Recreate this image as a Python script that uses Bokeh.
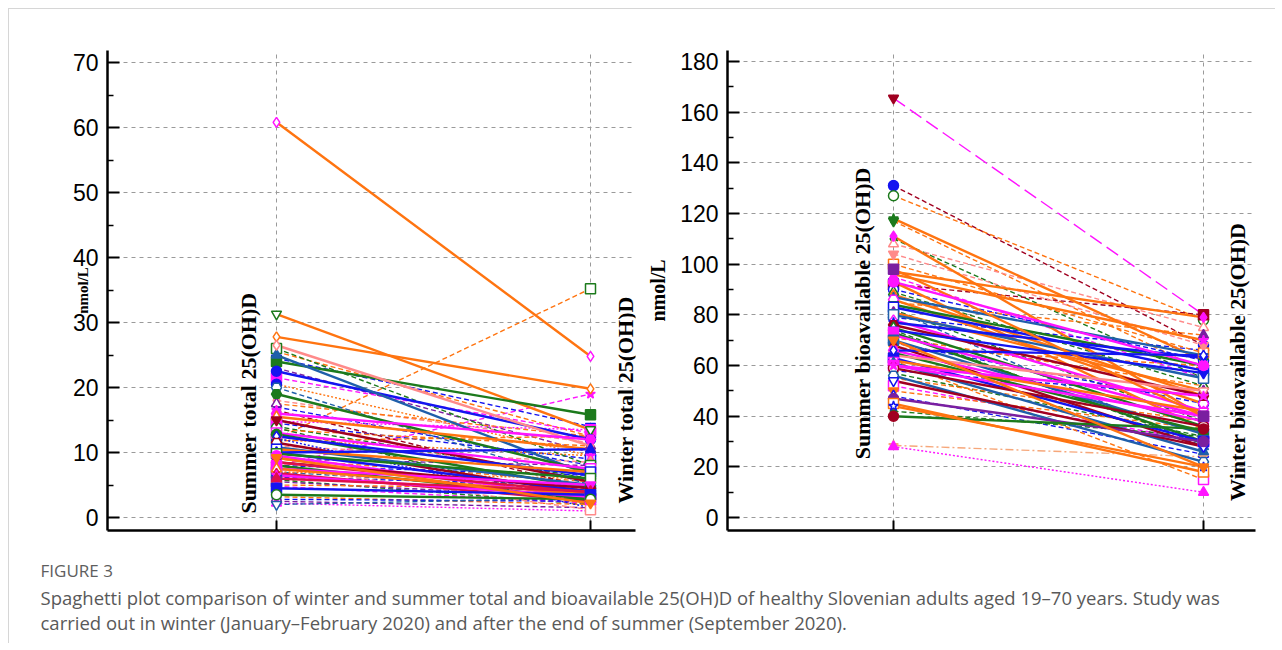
import numpy as np
from bokeh.plotting import figure
from bokeh.models import Range1d, FixedTicker
from bokeh.layouts import column, row
from bokeh.embed import file_html
from bokeh.resources import INLINE
from bokeh.core.properties import value

# ---------------- data ----------------
categories_total = ["Summer total 25(OH)D", "Winter total 25(OH)D"]
categories_bio = ["Summer bioavailable 25(OH)D", "Winter bioavailable 25(OH)D"]
y_label = "nmol/L"

yticks_total = [0, 10, 20, 30, 40, 50, 60, 70]
yminor_total = [5, 15, 25, 35, 45, 55, 65]
yticks_bio = [0, 20, 40, 60, 80, 100, 120, 140, 160, 180]
yminor_bio = [10, 30, 50, 70, 90, 110, 130, 150, 170]

summer_total = [60.8, 31.3, 27.8, 12.1, 24.0, 22.5, 25.0, 19.0, 26.5, 8.0,
                25.5, 23.0, 21.5, 20.5, 18.0, 17.0, 16.0, 15.5, 15.0, 14.5,
                14.0, 13.5, 13.0, 12.8, 12.5, 12.0, 11.5, 11.0, 10.8, 10.5,
                10.0, 10.0, 9.8, 9.5, 9.0, 9.0, 8.5, 8.5, 8.0, 8.0,
                7.5, 7.5, 7.0, 7.0, 6.8, 6.5, 6.2, 6.0, 5.8, 5.5,
                5.0, 4.8, 4.5, 3.5, 3.2, 2.8, 2.5, 2.2, 2.0, 26.0,
                24.5, 17.5, 14.8, 13.8, 11.8, 16.5, 20.0, 12.2, 9.2, 7.8]
winter_total = [24.8, 13.5, 19.8, 35.2, 15.8, 12.0, 6.5, 7.0, 11.0, 19.0,
                12.5, 10.0, 13.0, 9.5, 11.5, 8.0, 12.0, 10.5, 5.5, 9.0,
                6.0, 11.0, 7.5, 4.5, 6.5, 9.5, 3.5, 8.5, 5.0, 7.0,
                4.0, 10.5, 6.0, 3.0, 5.5, 8.0, 4.5, 3.8, 6.5, 2.8,
                5.0, 3.5, 4.2, 6.0, 2.5, 3.2, 5.0, 4.0, 2.0, 3.0,
                4.5, 2.2, 3.5, 2.8, 2.0, 2.5, 1.5, 1.0, 3.0, 8.0,
                14.0, 12.5, 13.5, 2.0, 12.5, 4.5, 5.0, 1.5, 2.2, 1.2]

summer_bio = [165.5, 131.0, 127.0, 118.0, 117.0, 111.0, 110.0, 108.0, 97.0, 96.0,
              95.0, 93.0, 92.0, 90.0, 88.0, 87.0, 86.0, 85.0, 84.0, 83.0,
              82.0, 81.0, 80.0, 79.0, 78.0, 77.0, 76.0, 75.0, 74.0, 73.0,
              72.0, 71.0, 70.0, 69.0, 68.0, 67.0, 66.0, 65.0, 64.0, 63.0,
              62.0, 61.0, 60.0, 59.0, 58.0, 57.0, 56.0, 55.0, 54.0, 52.0,
              50.0, 48.0, 47.0, 45.0, 42.0, 40.0, 44.0, 28.5, 28.0, 100.0,
              104.0, 89.0, 98.0, 93.0, 66.0, 60.0, 74.0, 82.0, 70.0, 62.0]
winter_bio = [80.0, 68.0, 78.0, 62.0, 58.0, 40.0, 55.0, 75.0, 79.0, 70.0,
              55.0, 35.0, 80.0, 62.0, 48.0, 64.0, 45.0, 72.0, 60.0, 58.0,
              38.0, 50.0, 55.0, 66.0, 42.0, 63.0, 48.0, 36.0, 57.0, 30.0,
              40.0, 52.0, 33.0, 45.0, 28.0, 60.0, 38.0, 34.0, 50.0, 30.0,
              42.0, 26.0, 40.0, 36.0, 48.0, 32.0, 22.0, 38.0, 28.0, 30.0,
              35.0, 25.0, 30.0, 18.0, 32.0, 35.0, 20.0, 24.0, 10.0, 65.0,
              68.0, 52.0, 40.0, 60.0, 64.0, 48.0, 29.0, 28.0, 20.0, 15.0]

caption_title = "FIGURE 3"
caption_lines = [
    "Spaghetti plot comparison of winter and summer total and bioavailable 25(OH)D of healthy Slovenian adults aged 19\u201370 years. Study was",
    "carried out in winter (January\u2013February 2020) and after the end of summer (September 2020).",
]

# ---------------- styles ----------------
COLORS = {"O": "#FF7410", "B": "#1414F0", "G": "#1C7A1C", "M": "#FF14FF", "R": "#A00020",
          "S": "#1F5FAA", "P": "#FF8A8A", "U": "#7A1FA0", "C": "#E0104A", "Y": "#F6A77A"}
DASHES = {"s": "solid", "d": "5 3", "o": "2 2", "a": "8 3 2 3", "l": "14 6"}
MARKERS = {"d": "diamond", "v": "inverted_triangle", "t": "triangle", "q": "square",
           "c": "circle", "x": "star", "h": "hex"}

sty_total = dict(
    col="OOOOGBSGPM" "OUMOPBMORB" "GOMGBORPSO" "BBGMOURCBG" "MOSOCMBCGU" "OMBGOBUMSG" "BOMGORSBOP",
    dash="sssdsssssd" "dddoddsssd" "ddsssosdss" "ssssddssds" "ssdossdsdd" "ddssdddodd" "ddoddddosd",
    mk="dvdqqcthdx" "vtqcdxhtvq" "vtqcdxhtvq" "vtqcdxhtvq" "vtqcdxhtvq" "vtqcdxhtvq" "vtqcdxhtvq",
    mcol="MGOGGBSGPM" "MUMBPBMORB" "GUMGBMRPSB" "BBGMOURCBM" "MOSUCMBCGU" "OMBGMBUMSG" "BUMGOMSBOP",
    fill="ooooffffof" "foffoffofo" "ffofofoffo" "ffofoffoff" "fofofoffof" "offoffofoo" "fofoffoffo",
)
sty_bio = dict(
    col="MROOOOGPOO" "MORBOSOOGB" "GOSBMBRGBG" "MOSBROMGPB" "OSMRBGSORM" "OBUOGGOYMO" "PGOMBMGSOO",
    dash="lddsdsddss" "dsddsssdss" "dssdssssss" "sdsdsdssss" "ssssddsdsd" "ddssdssaod" "ddssssddsd",
    mk="vccxvddtdx" "tvqcdxhtvq" "vtqcdxhtvq" "vtqcdxhtvq" "vtqcdxhtvq" "vtcqdcxxtq" "vtqcdxhtvq",
    mcol="RBGGGMGPMM" "MBRBOSMUGB" "GUSBMBRGBM" "MOSBROMGPB" "MSMRBGSUBM" "OBUOGRBYMO" "PGUMBMGSOM",
    fill="ffofffooff" "fofoffoffo" "ffofoffoff" "fofofoffof" "offoffofoo" "fofoffoffo" "foffofoffo",
)


def make_panel(summer, winter, cats, yticks, yminor, xr, yr, width, height,
               borders, sty, cat_pos, ylab_standoff, ylab_size):
    p = figure(width=width, height=height, x_range=Range1d(*xr), y_range=Range1d(*yr),
               output_backend="svg", toolbar_location=None,
               min_border_left=borders[0], min_border_right=borders[1],
               min_border_top=borders[2], min_border_bottom=borders[3])
    p.outline_line_color = None
    p.background_fill_color = "white"
    p.border_fill_color = "white"
    xpos = [i + 1 for i in range(len(cats))]

    # grids
    p.ygrid.ticker = FixedTicker(ticks=yticks)
    p.xgrid.ticker = FixedTicker(ticks=xpos)
    for g in (p.xgrid, p.ygrid):
        g.grid_line_color = "#9a9a9a"
        g.grid_line_dash = "4 4"
        g.grid_line_width = 1

    # axes
    p.yaxis.ticker = FixedTicker(ticks=yticks, minor_ticks=yminor)
    p.xaxis.ticker = FixedTicker(ticks=xpos)
    p.xaxis.major_label_overrides = {x: "" for x in xpos}
    for ax in (p.xaxis, p.yaxis):
        ax.axis_line_color = "black"
        ax.axis_line_width = 2.5
        ax.major_tick_line_color = "black"
        ax.major_tick_line_width = 2
        ax.major_tick_out = 0
        ax.minor_tick_out = 0
        ax.minor_tick_in = 6
        ax.minor_tick_line_color = "black"
        ax.minor_tick_line_width = 1.5
    p.yaxis.major_tick_in = 12
    p.xaxis.major_tick_in = 10
    p.xaxis.minor_tick_line_color = None
    p.yaxis.major_label_text_font = "Liberation Sans"
    p.yaxis.major_label_text_font_size = "23px"
    p.yaxis.major_label_text_color = "black"
    p.yaxis.major_label_standoff = 9
    p.yaxis.axis_label = y_label
    p.yaxis.axis_label_text_font = "Liberation Serif"
    p.yaxis.axis_label_text_font_style = "bold"
    p.yaxis.axis_label_text_font_size = ylab_size
    p.yaxis.axis_label_text_color = "black"
    p.yaxis.axis_label_standoff = ylab_standoff

    n = len(summer)
    order = [i for i in range(n) if sty["dash"][i] != "s"] + [i for i in range(n) if sty["dash"][i] == "s"]
    for i in order:
        c = COLORS[sty["col"][i]]
        d = sty["dash"][i]
        p.line(x=xpos, y=[summer[i], winter[i]], line_color=c,
               line_width=2.4 if d == "s" else 1.4, line_dash=DASHES[d])
    for i in order:
        mc = COLORS[sty["mcol"][i]]
        filled = sty["fill"][i] == "f"
        p.scatter(x=xpos, y=[summer[i], winter[i]], marker=MARKERS[sty["mk"][i]], size=10,
                  line_color=mc, line_width=1.5,
                  fill_color=mc if filled else "white")

    # category labels drawn vertically next to the points
    for (lx, ly), txt in zip(cat_pos, cats):
        p.text(x=[lx], y=[ly], text=[txt], angle=np.pi / 2, text_align="left",
               text_baseline="middle", text_font=value("Liberation Serif"),
               text_font_style="bold", text_font_size="22px", text_color="black")
    return p


p1 = make_panel(summer_total, winter_total, categories_total, yticks_total, yminor_total,
                (0.4618, 2.1433), (-2.0, 71.85), 632, 545, (98, 6, 41, 24), sty_total,
                [(0.911, 0.6), (2.111, 2.15)], -21, "15px")
p2 = make_panel(summer_bio, winter_bio, categories_bio, yticks_bio, yminor_bio,
                (0.4645, 2.1677), (-5.08, 184.3), 634, 545, (86, 20, 36, 24), sty_bio,
                [(0.90, 23.0), (2.111, 6.6)], 8, "20px")

# caption
pc = figure(width=1266, height=89, x_range=Range1d(0, 1266), y_range=Range1d(89, 0),
            output_backend="svg", toolbar_location=None,
            min_border_left=0, min_border_right=0, min_border_top=0, min_border_bottom=0)
pc.axis.visible = False
pc.grid.visible = False
pc.outline_line_color = None
pc.text(x=[31], y=[16], text=[caption_title], text_baseline="middle",
        text_font=value("Open Sans"), text_font_size="17px", text_color="#5e5e5e")
pc.text(x=[31, 31], y=[43, 68], text=caption_lines, text_baseline="middle",
        text_font=value("Open Sans"), text_font_size="18.5px", text_color="#595959")

layout = column(row(p1, p2), pc,
                styles={"margin-top": "8px", "margin-left": "8px",
                        "border-top": "1px solid #d6d6d6", "border-left": "1px solid #d6d6d6"})

open("out.html", "w").write(file_html(layout, INLINE))
